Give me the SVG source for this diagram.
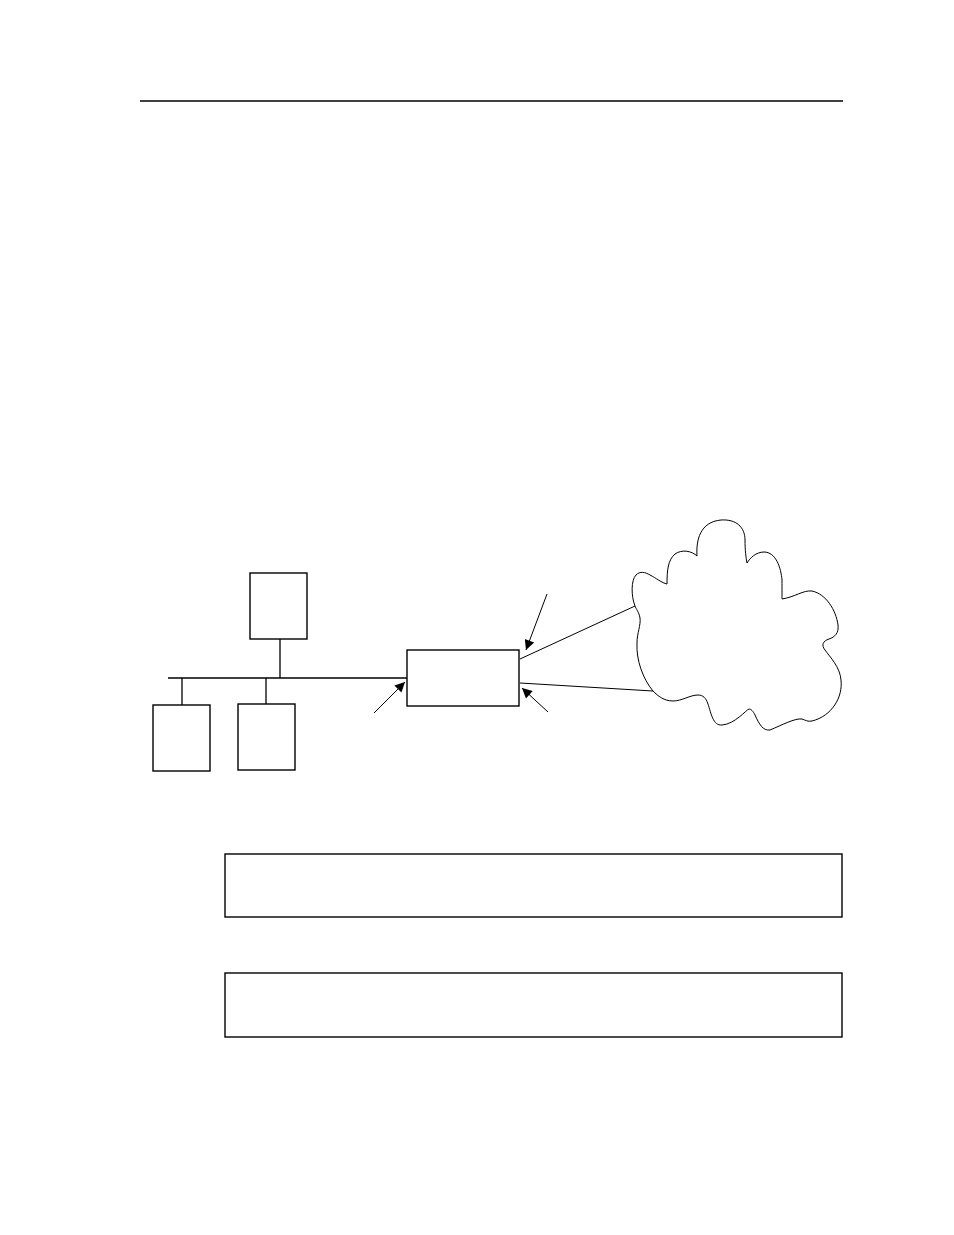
<svg xmlns="http://www.w3.org/2000/svg" width="954" height="1235" viewBox="0 0 954 1235">
<defs>
<style>
.box{fill:#fff;stroke:#000;stroke-width:1.4}
.ln{fill:none;stroke:#000;stroke-width:1.3}
.thin{fill:none;stroke:#000;stroke-width:1}
.arr{fill:none;stroke:#000;stroke-width:1;marker-end:url(#ah)}
</style>
<marker id="ah" viewBox="0 0 10 10" refX="10" refY="5" markerWidth="12" markerHeight="10" markerUnits="userSpaceOnUse" orient="auto">
<path d="M0,0 L10,5 L0,10 Z" fill="#000"/>
</marker>
</defs>
<rect width="954" height="1235" fill="#fff"/>
<line x1="140" y1="101" x2="843" y2="101" class="ln"/>
<g id="connectors">
<line x1="168" y1="678" x2="407" y2="678" class="ln"/>
<line x1="280" y1="639" x2="280" y2="678" class="ln"/>
<line x1="182" y1="678" x2="182" y2="705" class="ln"/>
<line x1="266" y1="678" x2="266" y2="704" class="ln"/>
<line x1="520" y1="659" x2="635" y2="606" class="thin"/>
<line x1="520" y1="683" x2="653" y2="691" class="thin"/>
<line x1="374" y1="713" x2="405" y2="682" class="arr"/>
<line x1="547" y1="594" x2="526" y2="650" class="arr"/>
<line x1="548" y1="712" x2="522" y2="688" class="arr"/>
</g>
<g id="server"><rect x="250" y="573" width="57" height="66" class="box"/></g>
<g id="host1"><rect x="153" y="705" width="57" height="66" class="box"/></g>
<g id="host2"><rect x="238" y="704" width="57" height="66" class="box"/></g>
<g id="router"><rect x="407" y="650" width="112" height="56" class="box"/></g>
<g id="cloud">
<path class="thin" d="M635,606 C631,596 631,580 636,575 C640,571 645,572 650,575 C656,578 662,583 667,584 C667,570 668,560 675,554 C682,549 692,551 697,556 C696,540 700,522 721,520 C736,519 745,527 745,540 C745,550 746,558 747,563 C750,558 756,552 764,552 C776,552 781,568 782,580 C782,590 782,596 782,599 C795,597 803,590 812,591 C826,594 836,610 838,625 C839,633 835,637 829,639 C823,641 821,645 825,650 C830,657 840,667 841,680 C843,697 832,716 812,721 C808,722 805,720 802,719 C795,718 782,725 770,730 C763,731 759,724 755,715 C753,711 751,709 749,709 C746,710 735,724 722,725 C713,726 711,713 708,704 C706,698 703,695 698,695 C690,695 682,701 673,701 C664,701 658,696 653,691 C643,679 636,660 637,643 C637,633 641,625 640,618 C639,612 636,609 635,606 Z"/>
</g>
<g id="box-a"><rect x="225" y="854" width="617" height="63" class="box"/></g>
<g id="box-b"><rect x="225" y="973" width="617" height="64" class="box"/></g>
</svg>
